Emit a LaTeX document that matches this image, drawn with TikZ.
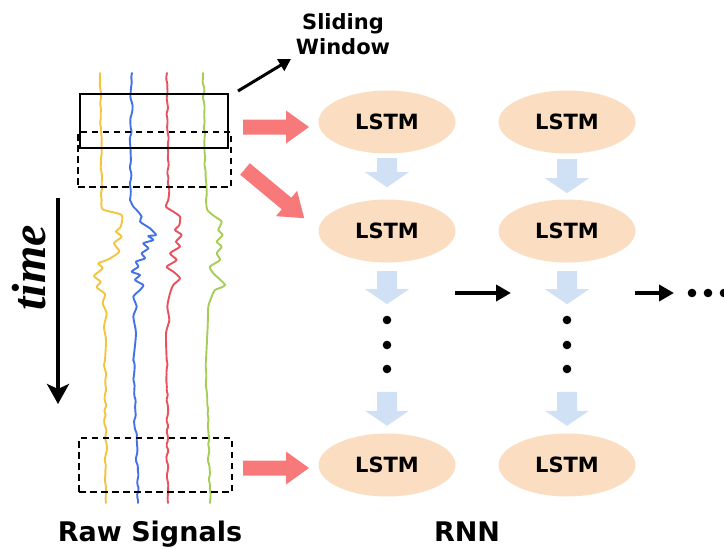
\documentclass[tikz,border=0pt]{standalone}
\usepackage{fontspec}
\setmainfont{DejaVu Sans}
\newfontfamily\timefont{Liberation Serif}
\usetikzlibrary{shapes.geometric,arrows.meta,calc,decorations.pathmorphing}
\definecolor{peach}{RGB}{251,222,194}
\definecolor{lblue}{RGB}{208,225,246}
\definecolor{pinkarr}{RGB}{247,121,121}
\definecolor{sigyellow}{RGB}{245,196,62}
\definecolor{sigblue}{RGB}{66,114,230}
\definecolor{sigred}{RGB}{232,82,94}
\definecolor{siggreen}{RGB}{166,206,86}
% start, angle, length, shaft half width, head half width, head length, style
\newcommand\blkarrow[7]{\fill[#7, shift={#1}, rotate=#2] (0,#4) -- ({#3-#6},#4) -- ({#3-#6},#5) -- (#3,0) -- ({#3-#6},-#5) -- ({#3-#6},-#4) -- (0,-#4) -- cycle;}
\begin{document}
\begin{tikzpicture}[x=1pt,y=-1pt,
  lstm/.style={ellipse, fill=peach, minimum width=137pt, minimum height=63pt, inner sep=0pt, font=\bfseries\fontsize{21}{21}\selectfont},
  winsolid/.style={draw, line width=2pt, inner sep=0pt},
  windash/.style={draw, line width=2pt, inner sep=0pt, dash pattern=on 6.5pt off 4.5pt},
  sig/.style={line width=1.9pt, line join=round, line cap=round},
  wig/.style={decorate, decoration={random steps, segment length=5pt, amplitude=#1}, rounded corners=1.5pt},
  blackarr/.style={line width=3.8pt, -{Triangle[length=15pt,width=16pt]}},
  label/.style={font=\bfseries\fontsize{27}{27}\selectfont, anchor=base},
  dot/.style={fill=black}]
\useasboundingbox (0,0) rectangle (724,549);
\pgfmathsetseed{7}

% ---- raw signals ----
\draw[sig, sigyellow, wig=1pt] (100,73) -- (101.67,200);
\begin{scope}[shift={(80,200)}, scale=1/3]
\draw[sig, sigyellow] plot[smooth, tension=0.4] coordinates {(65,0) (68,28) (125,45) (122,80) (108,95) (125,110) (102,130) (118,155) (85,178) (55,190) (68,205) (42,228) (62,245) (50,262) (75,282) (68,310) (80,340) (72,380) (78,420) (75,480)};
\draw[sig, sigblue] plot[smooth, tension=0.4] coordinates {(150,0) (160,20) (170,30) (185,50) (180,65) (210,85) (228,105) (205,108) (220,120) (190,130) (205,145) (185,160) (195,175) (168,185) (175,200) (155,215) (180,225) (165,240) (190,255) (180,270) (160,290) (170,320) (160,350) (168,400) (160,480)};
\draw[sig, sigred] plot[smooth, tension=0.4] coordinates {(265,0) (258,20) (280,35) (300,50) (298,75) (285,90) (305,105) (288,125) (300,140) (270,160) (290,180) (260,200) (280,215) (300,235) (280,255) (270,280) (262,320) (268,360) (258,400) (260,480)};
\draw[sig, siggreen] plot[smooth, tension=0.4] coordinates {(378,0) (382,30) (405,50) (425,65) (415,90) (428,105) (410,125) (425,140) (410,160) (420,180) (390,200) (400,220) (435,255) (405,270) (395,290) (385,320) (383,380) (378,480)};
\end{scope}
\draw[sig, sigyellow, wig=1.4pt] (105,360) -- (106,503);
\draw[sig, sigblue, wig=1.3pt] (132,73) -- (130,200);
\draw[sig, sigblue, wig=1.5pt] (133.33,360) -- (138,503);
\draw[sig, sigred, wig=1.1pt] (167,73) -- (168.33,200);
\draw[sig, sigred, wig=1.3pt] (166.67,360) -- (168,503);
\draw[sig, siggreen, wig=1pt] (203,73) -- (206,200);
\draw[sig, siggreen, wig=1.3pt] (206,360) -- (210,503);

% ---- windows ----
\node[winsolid, minimum width=148pt, minimum height=54pt] (win1) at (154,121) {};
\node[windash, minimum width=153pt, minimum height=55pt] (win2) at (154.5,159.5) {};
\node[windash, minimum width=153pt, minimum height=54pt] (win3) at (155.5,465) {};

% sliding window label
\node[font=\bfseries\fontsize{21}{25}\selectfont, align=center, inner sep=0pt] (swlbl) at (343,34) {Sliding\\Window};
\coordinate (swtail) at ($(win1.north east)+(9,-2)$);
\coordinate (swtip) at (291,59);
\draw[line width=3pt, -{Triangle[length=12pt,width=13pt]}] (swtail) -- (swtip);

% ---- time ----
\node[rotate=90, inner sep=0pt, font=\timefont\bfseries\itshape\fontsize{48}{48}\selectfont] (timelbl) at (29,268) {time};
\coordinate (ttop) at (58,198);
\coordinate (tbot) at (58,404);
\draw[line width=4.5pt, -{Stealth[length=20pt,width=22pt,inset=5pt]}] (ttop) -- (tbot);

% ---- LSTM grid ----
\node[lstm] (l11) at (387,122) {LSTM};
\node[lstm] (l12) at (567,122) {LSTM};
\node[lstm] (l21) at (387,231) {LSTM};
\node[lstm] (l22) at (567,231) {LSTM};
\node[lstm] (l31) at (387,465) {LSTM};
\node[lstm] (l32) at (567,465) {LSTM};

% blue arrows
\blkarrow{($(l11.south)+(0,4.5)$)}{-90}{29}{10}{22}{15}{lblue}
\blkarrow{($(l12.south)+(0,5.5)$)}{-90}{34}{10}{22}{15}{lblue}
\blkarrow{($(l21.south)+(0,8.5)$)}{-90}{33}{10}{22}{15}{lblue}
\blkarrow{($(l22.south)+(0,8.5)$)}{-90}{33}{10}{22}{15}{lblue}
\blkarrow{($(l31.north)+(0,-41.5)$)}{-90}{34}{10}{22}{15}{lblue}
\blkarrow{($(l32.north)+(0,-41.5)$)}{-90}{34}{10}{22}{15}{lblue}

% vertical dots
\foreach \yy in {320,345,369} {
  \fill[dot] (387,\yy) circle (4.3pt);
  \fill[dot] (567,\yy) circle (4.3pt);
}

% pink arrows
\blkarrow{($(win1.east)+(14,6)$)}{0}{66}{7.5}{16.5}{23}{pinkarr}
\blkarrow{($(win2.east)+(13,9.5)$)}{-39.7}{77}{7.5}{16.5}{23}{pinkarr}
\blkarrow{($(win3.east)+(10,3)$)}{0}{66}{7.5}{16.5}{23}{pinkarr}

% horizontal arrows
\coordinate (h1s) at (455,293);
\coordinate (h1e) at (511,293);
\coordinate (h2s) at (635,293);
\coordinate (h2e) at (674,293);
\draw[blackarr] (h1s) -- (h1e);
\draw[blackarr] (h2s) -- (h2e);
\foreach \xx in {692,708,724} { \fill[dot] (\xx,293) circle (4.3pt); }

% labels
\node[label] (rawlbl) at (150,541) {Raw Signals};
\node[label] (rnnlbl) at (467,541) {RNN};
\end{tikzpicture}
\end{document}
